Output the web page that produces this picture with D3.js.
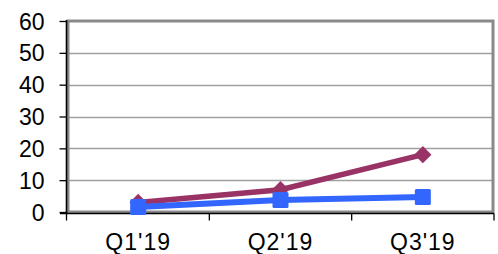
<!DOCTYPE html>
<html>
<head>
<meta charset="utf-8">
<script src="https://cdn.jsdelivr.net/npm/d3@7"></script>
<style>
  body { margin: 0; background: #fff; }
  text { font-family: "Liberation Sans", Arial, sans-serif; fill: #000; }
</style>
</head>
<body>
<svg id="chart" width="498" height="254" viewBox="0 0 498 254"></svg>
<script>
const quarters = ["Q1'19", "Q2'19", "Q3'19"];
const purpleValues = [3, 7, 18];
const blueValues = [1.6, 3.8, 4.7];
const yTicks = [0, 10, 20, 30, 40, 50, 60];

const svg = d3.select("#chart");
const plotLeft = 68, plotRight = 493, plotTop = 21, plotBottom = 212;

const x = d3.scaleBand().domain(quarters).range([plotLeft - 1, plotRight + 1]);
const y = d3.scaleLinear().domain([0, 60]).range([plotBottom, plotTop]);

// gridlines
svg.append("g")
  .selectAll("line")
  .data(yTicks.slice(1, -1))
  .enter()
  .append("line")
  .attr("x1", plotLeft)
  .attr("x2", plotRight)
  .attr("y1", d => Math.round(y(d)) + 0.5)
  .attr("y2", d => Math.round(y(d)) + 0.5)
  .attr("stroke", "#a0a0a0")
  .attr("stroke-width", 1.4);

// gray frame
svg.append("rect")
  .attr("x", plotLeft)
  .attr("y", plotTop)
  .attr("width", plotRight - plotLeft)
  .attr("height", plotBottom - plotTop)
  .attr("fill", "none")
  .attr("stroke", "#8a8a8a")
  .attr("stroke-width", 3);

// y axis
const yAxis = svg.append("g")
  .attr("transform", `translate(${plotLeft - 1.5},0)`)
  .call(d3.axisLeft(y).tickValues(yTicks).tickSize(7).tickPadding(15));
yAxis.select(".domain").attr("stroke", "#000").attr("stroke-width", 1.6)
  .attr("d", `M0,${plotTop - 1}V${plotBottom + 2}`);
yAxis.selectAll(".tick line").attr("stroke", "#000").attr("stroke-width", 1.3);
yAxis.selectAll("text").attr("font-size", 23).attr("dy", "0.35em");

// x axis
const xAxis = svg.append("g")
  .attr("transform", `translate(0,${plotBottom + 1.5})`)
  .call(d3.axisBottom(x).tickSize(0));
xAxis.select(".domain").attr("stroke", "#000").attr("stroke-width", 1.6)
  .attr("d", `M${plotLeft - 8},0H${plotRight + 1}`);
xAxis.selectAll("text")
  .attr("font-size", 23)
  .attr("letter-spacing", 1)
  .attr("y", 20)
  .attr("dy", "0.71em");
xAxis.selectAll(".sep")
  .data(quarters)
  .enter()
  .append("line")
  .attr("x1", d => x(d) + x.bandwidth())
  .attr("x2", d => x(d) + x.bandwidth())
  .attr("y1", 0)
  .attr("y2", 7)
  .attr("stroke", "#000")
  .attr("stroke-width", 1.3);
xAxis.append("line")
  .attr("x1", plotLeft - 1.5).attr("x2", plotLeft - 1.5)
  .attr("y1", 0).attr("y2", 7)
  .attr("stroke", "#000").attr("stroke-width", 1.3);

const cx = d => x(d) + x.bandwidth() / 2;
const line = d3.line().x(d => cx(d.q)).y(d => y(d.v));

// purple series with diamonds
const purpleData = quarters.map((q, i) => ({ q: q, v: purpleValues[i] }));
svg.append("path")
  .datum(purpleData)
  .attr("d", line)
  .attr("fill", "none")
  .attr("stroke", "#993366")
  .attr("stroke-width", 5.5);
svg.append("g")
  .selectAll("path")
  .data(purpleData)
  .enter()
  .append("path")
  .attr("d", d3.symbol().type(d3.symbolDiamond2).size(190))
  .attr("transform", d => `translate(${cx(d.q)},${y(d.v)})`)
  .attr("fill", "#993366");

// blue series with squares
const blueData = quarters.map((q, i) => ({ q: q, v: blueValues[i] }));
svg.append("path")
  .datum(blueData)
  .attr("d", line)
  .attr("fill", "none")
  .attr("stroke", "#3366ff")
  .attr("stroke-width", 6);
svg.append("g")
  .selectAll("rect")
  .data(blueData)
  .enter()
  .append("rect")
  .attr("x", d => cx(d.q) - 8)
  .attr("y", d => y(d.v) - 8)
  .attr("width", 16)
  .attr("height", 16)
  .attr("rx", 1.5)
  .attr("fill", "#3366ff");
</script>
</body>
</html>
